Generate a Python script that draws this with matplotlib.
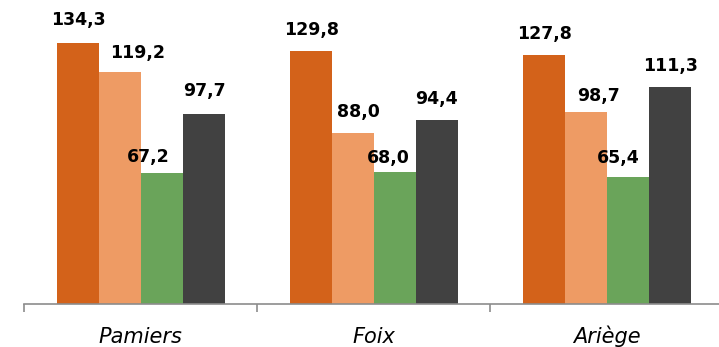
import numpy as np
import matplotlib
matplotlib.use('Agg')
import matplotlib.pyplot as plt

# données
categories = ['Pamiers', 'Foix', 'Ariège']
serie_1 = [134.3, 129.8, 127.8]
serie_2 = [119.2, 88.0, 98.7]
serie_3 = [67.2, 68.0, 65.4]
serie_4 = [97.7, 94.4, 111.3]

series = [serie_1, serie_2, serie_3, serie_4]
colors = ['#D3621A', '#EE9B64', '#6AA45A', '#414141']

# décalage manuel des étiquettes (pixels), comme dans l'original
label_dx = [[0.5, 1, 1], [17.5, 5.5, 13], [-13, -6, -10], [1, 0, 1]]
label_dy = [[17.7, 16.7, 16], [13.7, 16, 10.6], [11, 9, 14], [17.6, 16.7, 16.3]]

W, H, DPI = 719, 347, 100
fig = plt.figure(figsize=(W / DPI, H / DPI), dpi=DPI)
ax = fig.add_axes([24 / W, 43 / H, 699.5 / W, 304 / H])

x = np.arange(len(categories))
width = 0.18
for i, (vals, col) in enumerate(zip(series, colors)):
    pos = x + (i - 1.5) * width
    ax.bar(pos, vals, width=width, color=col, linewidth=0)
    for j, v in enumerate(vals):
        ax.annotate(f'{v:.1f}'.replace('.', ','), xy=(pos[j], v),
                    xytext=(label_dx[i][j], label_dy[i][j]), textcoords='offset pixels',
                    ha='center', va='baseline', fontsize=12.5, fontweight='bold',
                    color='black')

for j, cat in enumerate(categories):
    ax.annotate(cat, xy=(x[j], 0), xycoords=('data', 'axes fraction'),
                xytext=(0, -38.7), textcoords='offset pixels',
                ha='center', va='baseline', fontsize=15, fontstyle='italic',
                color='black')

ax.set_xlim(-0.5, len(categories) - 0.5)
ax.set_ylim(0, 156.2)
ax.set_yticks([])
ax.set_xticks([])
ax.set_xticks(np.arange(len(categories) + 1) - 0.5, minor=True)
ax.tick_params(axis='x', which='minor', length=6, width=1.2, color='#8c8c8c', direction='out')
for s in ['left', 'top', 'right']:
    ax.spines[s].set_visible(False)
ax.spines['bottom'].set_color('#8c8c8c')
ax.spines['bottom'].set_linewidth(1.2)

fig.savefig('out.png', dpi=DPI)
